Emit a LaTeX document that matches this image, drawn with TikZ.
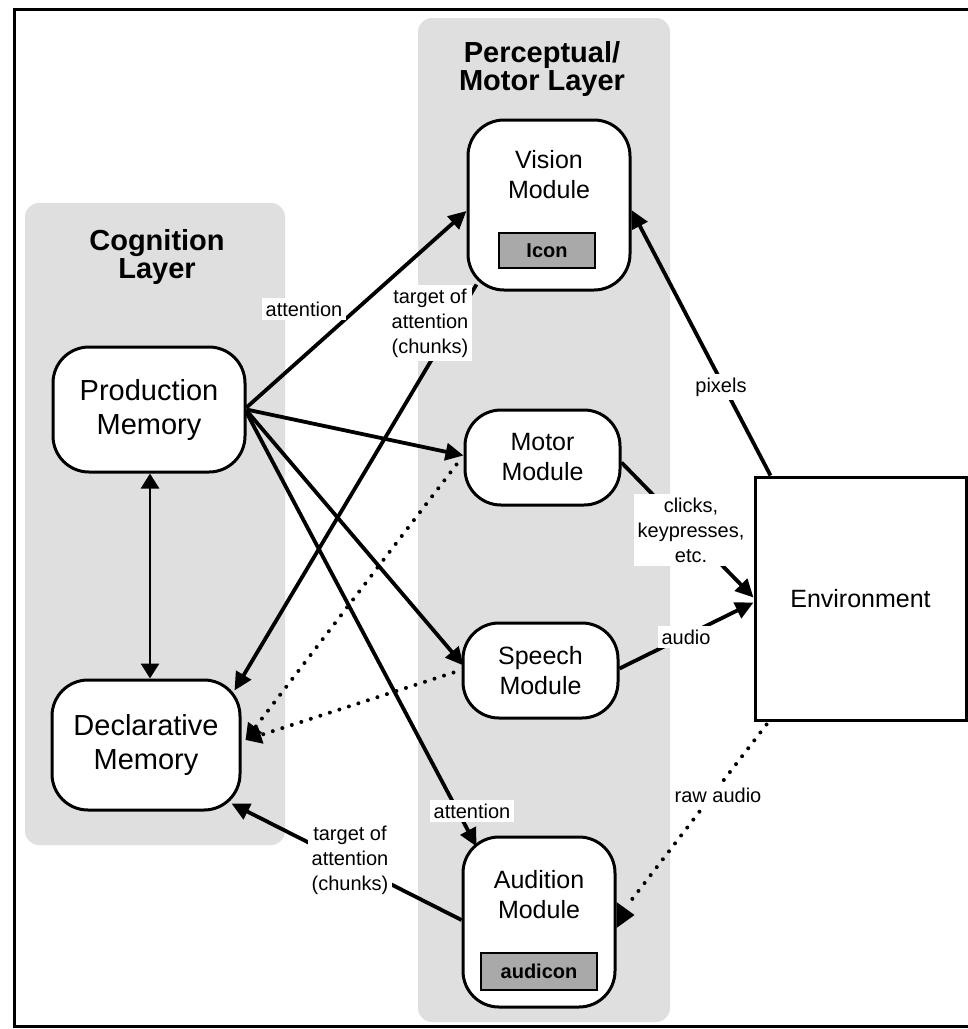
\documentclass[tikz,border=0pt]{standalone}
\usepackage{fontspec}
\setmainfont{Liberation Sans}
\usetikzlibrary{arrows.meta,calc}

\definecolor{layergray}{HTML}{DFDFDF}
\definecolor{buffergray}{HTML}{A9A9A9}

\tikzset{
  layerbg/.style={fill=layergray, rounded corners=14pt},
  layertitle/.style={font=\bfseries\fontsize{29}{28}\selectfont, align=center, inner sep=0pt},
  memory/.style={draw, line width=3pt, rounded corners=36pt, fill=white,
                 align=center, inner sep=0pt,
                 font=\fontsize{29}{34}\selectfont},
  module/.style={draw, line width=3pt, rounded corners=36pt, fill=white,
                 align=center, inner sep=0pt,
                 font=\fontsize{25}{30}\selectfont},
  modtext/.style={align=center, inner sep=0pt, font=\fontsize{25}{30}\selectfont},
  buffer/.style={draw, line width=2.2pt, fill=buffergray, inner sep=0pt,
                 font=\bfseries\fontsize{20}{24}\selectfont},
  envbox/.style={draw, line width=3pt, fill=white, inner sep=0pt,
                 font=\fontsize{25}{30}\selectfont},
  conn/.style={line width=3.8pt, -{Triangle[length=18pt,width=17pt]}},
  biconn/.style={line width=2.8pt, {Triangle[length=15pt,width=18pt]}-{Triangle[length=15pt,width=18pt]}},
  dotconn/.style={line width=4pt, dash pattern=on 0pt off 10pt, line cap=round},
  dotarrow/.style={dotconn, -{Triangle[length=16pt,width=17pt]}},
  lbl/.style={fill=white, inner sep=4pt, align=center,
              font=\fontsize{20}{25}\selectfont},
}

\begin{document}
\begin{tikzpicture}[x=1pt,y=-1pt]
  % page area
  \useasboundingbox (0,0) rectangle (968,1029);
  \fill[white] (0,0) rectangle (968,1029);

  % outer frame (runs off the right edge)
  \draw[line width=3pt] (968,9) -- (14,9) -- (14,1026) -- (968,1026);

  % layer backgrounds
  \fill[layerbg] (25,203) rectangle (285,845);
  \fill[layerbg] (418,18) rectangle (670,1022);

  % layer titles
  \node[layertitle] (cogtitle) at (157,257) {Cognition\\Layer};
  \node[layertitle] (pmtitle) at (542,69) {Perceptual/\\Motor Layer};

  % cognition layer
  \node[memory, minimum width=192pt, minimum height=125pt] (pm) at (149,409.5) {Production\\Memory};
  \node[memory, minimum width=188pt, minimum height=130pt] (dm) at (146,745) {Declarative\\Memory};

  % perceptual/motor layer
  \node[module, minimum width=162pt, minimum height=170pt] (vision) at (549,205) {};
  \node[modtext] (visiontxt) at (549,175) {Vision\\Module};
  \node[buffer, minimum width=96pt, minimum height=35pt] (icon) at (547,250.5) {Icon};

  \node[module, minimum width=155pt, minimum height=95pt] (motor) at (542.5,457.5) {Motor\\Module};
  \node[module, minimum width=155pt, minimum height=95pt] (speech) at (540.5,670.5) {Speech\\Module};

  \node[module, minimum width=152pt, minimum height=170pt] (aud) at (539,922) {};
  \node[modtext] (audtxt) at (539,895) {Audition\\Module};
  \node[buffer, minimum width=116pt, minimum height=37pt] (audicon) at (539,971.5) {audicon};

  % environment
  \node[envbox, minimum width=211pt, minimum height=243pt] (env) at (860.5,598.5) {Environment};

  % connectors
  \draw[conn] ([shift={(0,-2)}]pm.east) -- ([shift={(0,6)}]vision.west);
  \draw[conn] ([shift={(10,-7)}]vision.south west) -- ([shift={(-7,12)}]dm.north east);
  \draw[conn] (pm.east) -- ([shift={(0,-2)}]motor.west);
  \draw[conn] ([shift={(0,1)}]pm.east) -- ([shift={(2,-5)}]speech.west);
  \draw[conn] ([shift={(0,3)}]pm.east) -- ([shift={(15,11)}]aud.north west);
  \draw[conn] ([shift={(0,-2)}]aud.west) -- ([shift={(-10,-8)}]dm.south east);
  \draw[biconn] ([shift={(1,0)}]pm.south) -- ([shift={(4,0)}]dm.north);
  \draw[dotarrow] ([shift={(-7,7)}]motor.west) -- ([shift={(4,-5)}]dm.east);
  \draw[dotarrow] ([shift={(-8,2)}]speech.west) -- ([shift={(4,-5)}]dm.east);
  \draw[conn] ([shift={(17,0)}]env.north west) -- ([shift={(0,5)}]vision.east);
  \draw[conn] ([shift={(0,5)}]motor.east) -- ([shift={(0,-1)}]env.west);
  \draw[conn] ([shift={(0,-2)}]speech.east) -- ([shift={(0,4)}]env.west);
  \draw[dotconn] ([shift={(13,3)}]env.south west) -- ([shift={(15,-22)}]aud.east);
  \fill ([shift={(0,-20)}]aud.east) -- ([shift={(18,-7)}]aud.east) -- ([shift={(0,6)}]aud.east) -- cycle;

  % connector labels
  \node[lbl] (l1) at (304,309) {attention};
  \node[lbl] (l2) at (430,323) {target of\\attention\\(chunks)};
  \node[lbl] (l3) at (472,811) {attention};
  \node[lbl] (l4) at (350,860) {target of\\attention\\(chunks)};
  \node[lbl] (l5) at (721,387) {pixels};
  \node[lbl] (l6) at (691,530) {clicks,\\keypresses,\\etc.};
  \node[lbl] (l7) at (686,637) {audio};
  \node[lbl] (l8) at (718,795) {raw audio};
\end{tikzpicture}
\end{document}
